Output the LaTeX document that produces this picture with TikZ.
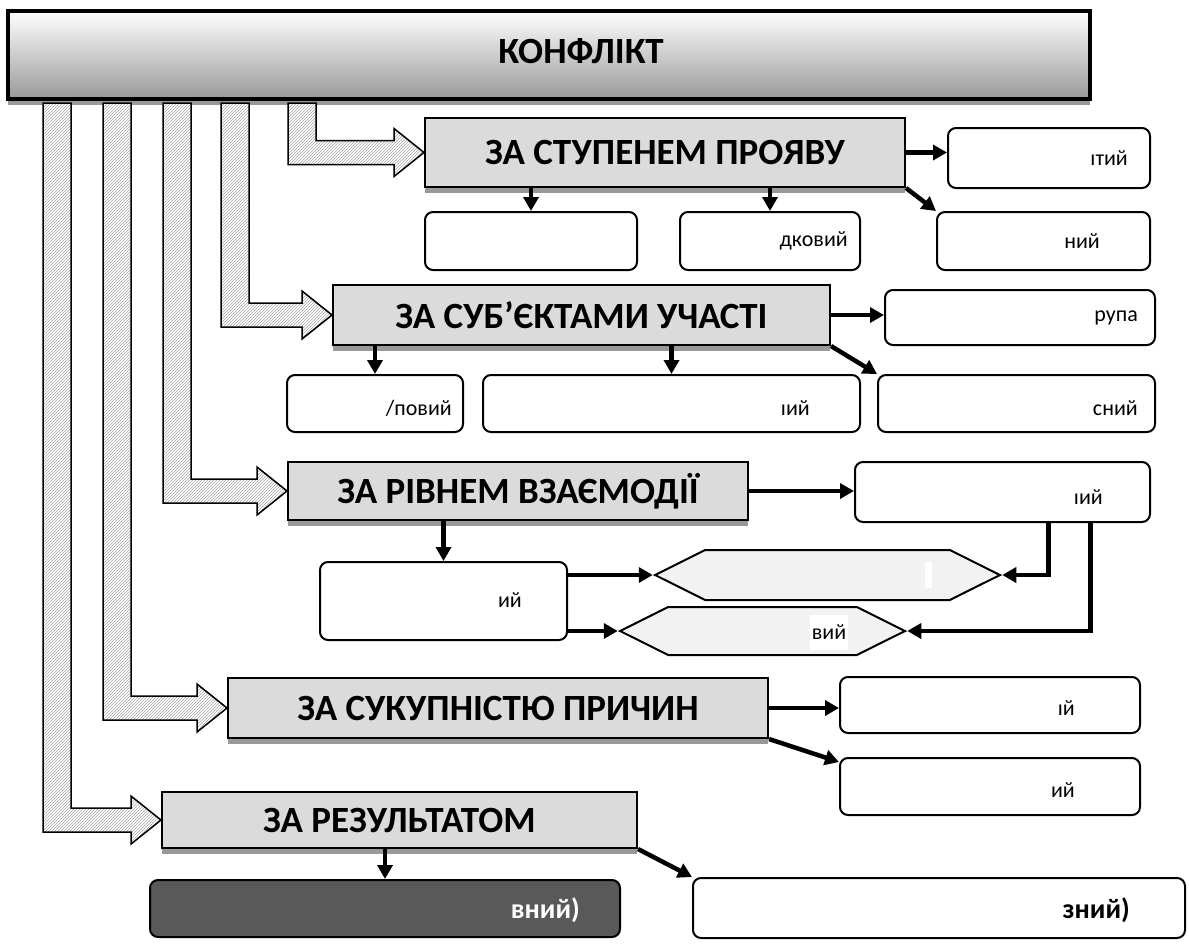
\documentclass[tikz,border=0pt]{standalone}
\usepackage{fontspec}
\setmainfont{Carlito}
\usetikzlibrary{arrows.meta,calc,patterns,shadows,shapes.symbols}

\newcommand\headfont{\fontsize{37}{40}\selectfont\bfseries}
\newcommand\leaffont{\fontsize{22}{24}\selectfont}
\newcommand\lastfont{\fontsize{28}{30}\selectfont\bfseries}

\tikzset{
  headbox/.style={draw, line width=2pt, fill=black!14, font=\headfont,
    drop shadow={shadow xshift=0pt, shadow yshift=-6pt, fill=black!40, opacity=1}},
  leafbox/.style={draw, line width=2pt, fill=white, rounded corners=8pt},
  hexbox/.style={draw, line width=2pt, fill=black!5, shape=signal,
    signal to=west and east, signal pointer angle=53, inner sep=0pt},
  leaftext/.style={font=\leaffont, inner sep=0pt, anchor=east},
  hatched/.style={line width=1.5pt, draw, preaction={fill=white},
    pattern=north east lines, pattern color=gray!70},
  link/.style={->, line width=4.5pt},
}

% hatched arrow: bar at x=#1 from the top box to node #2
\newcommand\hatcharrow[2]{%
  \draw[hatched] let \p1=(#2.west), \p2=(konf.south) in
    (#1pt-14pt,\y2-2pt) -- (#1pt-14pt,\y1-12pt) -- (\x1-30pt,\y1-12pt)
    -- (\x1-30pt,\y1-24pt) -- (\p1) -- (\x1-30pt,\y1+24pt)
    -- (\x1-30pt,\y1+12pt) -- (#1pt+14pt,\y1+12pt) -- (#1pt+14pt,\y2-2pt) -- cycle;}

\begin{document}
\begin{tikzpicture}[x=1pt, y=-1pt, >={Triangle[length=14pt,width=15pt]}]
  \useasboundingbox (0,0) rectangle (1189,943);

  % Top box
  \node[draw, line width=4pt, minimum width=1082pt, minimum height=88pt,
    top color=white, bottom color=black!40, font=\headfont,
    text height=27pt, text depth=11pt,
    drop shadow={shadow xshift=0pt, shadow yshift=-6pt, fill=black!40, opacity=1}]
    (konf) at (549,55) {\hspace*{64pt}КОНФЛІКТ};

  % Headings
  \node[headbox, minimum width=480pt, minimum height=69pt] (stup) at (665,152.5) {ЗА СТУПЕНЕМ ПРОЯВУ};
  \node[headbox, minimum width=497pt, minimum height=60pt] (subj) at (581.5,315) {ЗА СУБ’ЄКТАМИ УЧАСТІ};
  \node[headbox, minimum width=460pt, minimum height=58pt] (rivn) at (518,491) {ЗА РІВНЕМ ВЗАЄМОДІЇ};
  \node[headbox, minimum width=540pt, minimum height=60pt] (suk) at (498,708) {ЗА СУКУПНІСТЮ ПРИЧИН};
  \node[headbox, minimum width=475pt, minimum height=56pt] (rez) at (399.5,820) {ЗА РЕЗУЛЬТАТОМ};

  % Leaf boxes
  \node[leafbox, minimum width=202pt, minimum height=60pt] (s1) at (1049,158) {};
  \node[leafbox, minimum width=212pt, minimum height=58pt] (s2) at (531,241) {};
  \node[leafbox, minimum width=180pt, minimum height=58pt] (s3) at (770,241) {};
  \node[leafbox, minimum width=213pt, minimum height=58pt] (s4) at (1043.5,241) {};

  \node[leafbox, minimum width=270pt, minimum height=55pt] (u1) at (1020,317.5) {};
  \node[leafbox, minimum width=176pt, minimum height=57pt] (u2) at (375,403.5) {};
  \node[leafbox, minimum width=377pt, minimum height=57pt] (u3) at (671.5,403.5) {};
  \node[leafbox, minimum width=277pt, minimum height=57pt] (u4) at (1016.5,403.5) {};

  \node[leafbox, minimum width=295pt, minimum height=60pt] (v1) at (1002.5,492) {};
  \node[leafbox, minimum width=247pt, minimum height=78pt] (v2) at (443.5,601) {};
  \node[hexbox, minimum width=345pt, minimum height=50pt] (hexa) at (827.5,575) {};
  \node[hexbox, minimum width=285pt, minimum height=48pt] (hexb) at (762.5,631) {};

  \node[leafbox, minimum width=300pt, minimum height=56pt] (p1) at (990,705) {};
  \node[leafbox, minimum width=300pt, minimum height=57pt] (p2) at (990,786.5) {};

  \node[leafbox, fill=black!65, minimum width=470pt, minimum height=57pt] (r1) at (385,908.5) {};
  \node[leafbox, minimum width=492pt, minimum height=60pt] (r2) at (939,908) {};

  % Hatched arrows
  \hatcharrow{302}{stup}
  \hatcharrow{235}{subj}
  \hatcharrow{177}{rivn}
  \hatcharrow{117}{suk}
  \hatcharrow{57}{rez}

  % Links
  \draw[link] (stup.east) -- (stup.east -| s1.west);
  \draw[link] (stup.south east) -- (s4.north west);
  \draw[link] (s2.north |- stup.south) -- (s2.north);
  \draw[link] (s3.north |- stup.south) -- (s3.north);

  \draw[link] (subj.east) -- (subj.east -| u1.west);
  \draw[link] (subj.south east) -- (u4.north west);
  \draw[link] (u2.north |- subj.south) -- (u2.north);
  \draw[link] (u3.north |- subj.south) -- (u3.north);

  \draw[link] (rivn.east) -- (rivn.east -| v1.west);
  \draw[link] (v2.north |- rivn.south) -- (v2.north);
  \draw[link] (v2.east |- hexa.west) -- (hexa.west);
  \draw[link] (v2.east |- hexb.west) -- (hexb.west);
  \draw[link] ($(v1.south west)!0.654!(v1.south east)$) |- (hexa.east);
  \draw[link] ($(v1.south west)!0.797!(v1.south east)$) |- (hexb.east);

  \draw[link] (suk.east) -- (suk.east -| p1.west);
  \draw[link] (suk.south east) -- ([yshift=-5pt]p2.north west);

  \draw[link] (r1.north |- rez.south) -- (r1.north);
  \draw[link] (rez.south east) -- (r2.north west);

  % Texts
  \node[leaftext] (s1t) at (1128,158) {ıтий};
  \node[leaftext] (s3t) at (848,241) {дковий};
  \node[leaftext] (s4t) at (1100,241) {ний};
  \node[leaftext] (u1t) at (1138,318) {рупа};
  \node[leaftext] (u2t) at (452,408) {/повий};
  \node[leaftext] (u3t) at (810,408) {ıий};
  \node[leaftext] (u4t) at (1138,408) {сний};
  \node[leaftext] (v1t) at (1103,497) {ıий};
  \node[leaftext] (v2t) at (522,600) {ий};
  \fill[white] (925,562) rectangle (932,588);
  \node[fill=white, font=\leaffont, minimum width=38pt, minimum height=35pt, inner sep=0pt] (hbt) at (829,632) {вий};
  \node[leaftext] (p1t) at (1075,708) {ıй};
  \node[leaftext] (p2t) at (1075,790) {ий};
  \node[leaftext, font=\lastfont, text=white] (r1t) at (580,910) {вний)};
  \node[leaftext, font=\lastfont] (r2t) at (1130,910) {зний)};
\end{tikzpicture}
\end{document}
